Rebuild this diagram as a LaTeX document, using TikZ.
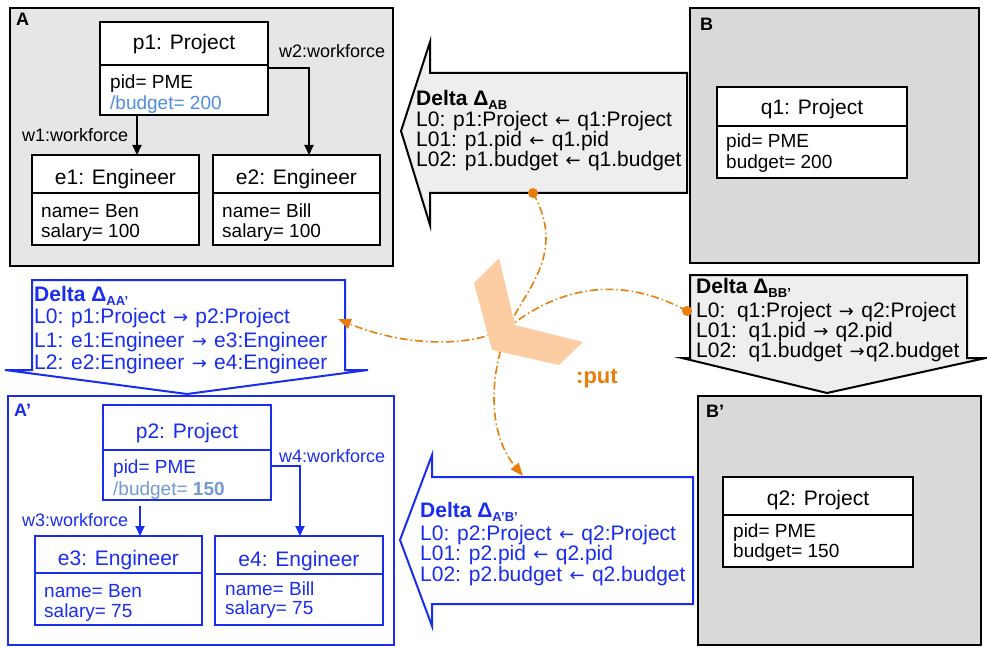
\documentclass[tikz,border=0pt]{standalone}
\usepackage{fontspec}
\setmainfont{Liberation Sans}
\newfontfamily\arrf{DejaVu Sans}
\usetikzlibrary{arrows.meta}
\definecolor{bgA}{HTML}{E6E6E6}
\definecolor{bgB}{HTML}{D9D9D9}
\definecolor{dgray}{HTML}{EEEEEE}
\definecolor{ublue}{RGB}{25,45,240}
\definecolor{lblue}{RGB}{80,140,225}
\definecolor{gblue}{RGB}{115,155,210}
\definecolor{orng}{RGB}{232,125,10}
\definecolor{peach}{RGB}{252,204,162}
\newcommand\dsub[1]{\raisebox{-4pt}{\fontsize{13}{13}\selectfont #1}}
\newcommand\la{\hspace{1.5pt}{\arrf\fontsize{18}{18}\selectfont ←}\hspace{1.5pt}}
\newcommand\ra{\hspace{1.5pt}{\arrf\fontsize{18}{18}\selectfont →}\hspace{1.5pt}}
\begin{document}
\begin{tikzpicture}[x=1pt,y=-1pt,
 box/.style={draw, line width=2pt, inner sep=0pt, outer sep=0pt},
 ttl/.style={anchor=base, inner sep=0pt, font=\fontsize{21}{21}\selectfont},
 att/.style={anchor=base west, inner sep=0pt, font=\fontsize{19}{19}\selectfont},
 lab/.style={anchor=base west, inner sep=0pt, font=\fontsize{18}{18}\selectfont},
 dtx/.style={anchor=base west, inner sep=0pt, font=\fontsize{21}{21}\selectfont},
 big/.style={anchor=base west, inner sep=0pt, font=\fontsize{18}{18}\selectfont\bfseries},
 conn/.style={line width=2pt, -{Triangle[length=10pt,width=9pt]}},
 putline/.style={orng, line width=1.6pt, dash pattern=on 8pt off 3pt on 1.5pt off 3pt},
 dlt/.style={line width=2pt, line join=miter},
]
\useasboundingbox (0,0) rectangle (987,647);

% ---------- A ----------
\node[box, fill=bgA, minimum width=383pt, minimum height=258pt] (A) at (201.5,137) {};
\node[big] (Alab) at (16,26) {A};
\node[box, fill=white, minimum width=168pt, minimum height=43pt] (p1t) at (184,43.5) {};
\node[ttl] (p1n) at (184,50) {p1: Project};
\node[box, fill=white, minimum width=168pt, minimum height=50pt] (p1a) at (184,90) {};
\node[att] (p1pid) at (110,89) {pid= PME};
\node[att, text=lblue] (p1bud) at (110,110) {/budget= 200};
\node[box, fill=white, minimum width=167pt, minimum height=38pt] (e1t) at (115.5,174) {};
\node[ttl] (e1nm) at (115.5,185) {e1: Engineer};
\node[box, fill=white, minimum width=167pt, minimum height=52pt] (e1a) at (115.5,219) {};
\node[att] (e1n) at (41,217) {name= Ben};
\node[att] (e1s) at (41,237) {salary= 100};
\node[box, fill=white, minimum width=167pt, minimum height=38pt] (e2t) at (296.5,174) {};
\node[ttl] (e2nm) at (296.5,185) {e2: Engineer};
\node[box, fill=white, minimum width=167pt, minimum height=52pt] (e2a) at (296.5,219) {};
\node[att] (e2n) at (222,217) {name= Bill};
\node[att] (e2s) at (222,237) {salary= 100};
\draw[conn] ([xshift=37pt]p1a.south west) -- ([xshift=105pt]e1t.north west);
\draw[conn] ([yshift=-3pt]p1a.north east) -| ([xshift=96pt]e2t.north west);
\node[lab] (w1) at (22,141.5) {w1:workforce};
\node[lab] (w2) at (279,57.5) {w2:workforce};

% ---------- B ----------
\node[box, fill=bgB, minimum width=289pt, minimum height=255pt] (B) at (834.5,135.5) {};
\node[big] (Blab) at (700,31) {B};
\node[box, fill=white, minimum width=190pt, minimum height=39pt] (q1t) at (812,106.5) {};
\node[ttl] (q1nm) at (812,115) {q1: Project};
\node[box, fill=white, minimum width=190pt, minimum height=52pt] (q1a) at (812,152) {};
\node[att] (q1pid) at (726,148) {pid= PME};
\node[att] (q1bud) at (726,168) {budget= 200};

% ---------- B' ----------
\node[box, fill=bgB, minimum width=283pt, minimum height=249pt] (Bp) at (839.5,520.5) {};
\node[big] (Bplab) at (706,417) {B’};
\node[box, fill=white, minimum width=190pt, minimum height=38pt] (q2t) at (818,496) {};
\node[ttl] (q2nm) at (818,505) {q2: Project};
\node[box, fill=white, minimum width=190pt, minimum height=52pt] (q2a) at (818,541) {};
\node[att] (q2pid) at (733,537) {pid= PME};
\node[att] (q2bud) at (733,557) {budget= 150};

% ---------- A' ----------
\begin{scope}[every node/.append style={text=ublue}]
\node[box, draw=ublue, fill=white, minimum width=386pt, minimum height=249pt] (Ap) at (201,520.5) {};
\node[big] (Aplab) at (14,416) {A’};
\node[box, draw=ublue, fill=white, minimum width=168pt, minimum height=45pt] (p2t) at (187,427.5) {};
\node[ttl] (p2nm) at (187,438) {p2: Project};
\node[box, draw=ublue, fill=white, minimum width=168pt, minimum height=50pt] (p2a) at (187,475) {};
\node[att] (p2pid) at (113,473) {pid= PME};
\node[att, text=gblue] (p2bud) at (113,495) {/budget= \textbf{150}};
\node[box, draw=ublue, fill=white, minimum width=167pt, minimum height=37pt] (e3t) at (118.5,554.5) {};
\node[ttl] (e3nm) at (118.5,565) {e3: Engineer};
\node[box, draw=ublue, fill=white, minimum width=167pt, minimum height=52pt] (e3a) at (118.5,599) {};
\node[att] (e3n) at (44,597) {name= Ben};
\node[att] (e3s) at (44,617) {salary= 75};
\node[box, draw=ublue, fill=white, minimum width=168pt, minimum height=38pt] (e4t) at (299,555) {};
\node[ttl] (e4nm) at (299,566) {e4: Engineer};
\node[box, draw=ublue, fill=white, minimum width=168pt, minimum height=51pt] (e4a) at (299,599.5) {};
\node[att] (e4n) at (225,595) {name= Bill};
\node[att] (e4s) at (225,614) {salary= 75};
\node[lab] (w3) at (22,526) {w3:workforce};
\node[lab] (w4) at (279,462) {w4:workforce};
\end{scope}
\draw[conn, ublue] ([xshift=37pt,yshift=-6pt]p2a.south west) -- ([xshift=105pt]e3t.north west);
\draw[conn, ublue] ([yshift=-16pt]p2a.north east) -| ([xshift=85pt]e4t.north west);

% ---------- Delta AB ----------
\draw[dlt, fill=dgray] (687,73) -- (430,73) -- (430,42) -- (401,131) -- (430,225) -- (430,193) -- (687,193) -- cycle;
\node[dtx] (dAB0) at (416,105.5) {\textbf{Delta Δ\dsub{AB}}};
\node[dtx] (dAB1) at (416,127) {L0: p1:Project \la{} q1:Project};
\node[dtx] (dAB2) at (416,147) {L01: p1.pid \la{} q1.pid};
\node[dtx] (dAB3) at (416,167) {L02: p1.budget \la{} q1.budget};

% ---------- Delta BB' ----------
\draw[dlt, fill=dgray] (690,275) -- (967,275) -- (967,358) -- (986,358) -- (827,393) -- (682,358) -- (690,358) -- cycle;
\node[dtx] (dBB0) at (696,293) {\textbf{Delta Δ\dsub{BB'}}};
\node[dtx] (dBB1) at (696,317) {L0:\ \ q1:Project \ra{} q2:Project};
\node[dtx] (dBB2) at (696,337) {L01:\ \ q1.pid \ra{} q2.pid};
\node[dtx] (dBB3) at (696,357) {L02:\ \ q1.budget \ra{}q2.budget};

% ---------- Delta AA' ----------
\draw[dlt, draw=ublue, fill=white] (32,280) -- (345,280) -- (345,370) -- (368,370) -- (187,394) -- (5,370) -- (32,370) -- cycle;
\begin{scope}[every node/.append style={text=ublue}]
\node[dtx] (dAA0) at (34,301) {\textbf{Delta Δ\dsub{AA'}}};
\node[dtx] (dAA1) at (34,323) {L0: p1:Project \ra{} p2:Project};
\node[dtx] (dAA2) at (34,347) {L1: e1:Engineer \ra{} e3:Engineer};
\node[dtx] (dAA3) at (34,369) {L2: e2:Engineer \ra{} e4:Engineer};
\end{scope}

% ---------- Delta A'B' ----------
\draw[dlt, draw=ublue, fill=white] (693,477) -- (432,477) -- (432,455) -- (400,540) -- (432,626) -- (432,604) -- (693,604) -- cycle;
\begin{scope}[every node/.append style={text=ublue}]
\node[dtx] (dApB0) at (420,517) {\textbf{Delta Δ\dsub{A'B'}}};
\node[dtx] (dApB1) at (420,540) {L0: p2:Project \la{} q2:Project};
\node[dtx] (dApB2) at (420,560.5) {L01: p2.pid \la{} q2.pid};
\node[dtx] (dApB3) at (420,581) {L02: p2.budget \la{} q2.budget};
\end{scope}

% ---------- put ----------
\coordinate (s1) at (533,193);
\coordinate (t1) at (523,476);
\coordinate (s2) at (687,311);
\coordinate (t2) at (338,319);
\draw[putline, -{Triangle[length=13pt,width=10pt]}] (s1) .. controls (565,250) and (530,285) .. (512,320) .. controls (490,365) and (485,430) .. (t1);
\draw[putline, -{Triangle[length=13pt,width=10pt]}] (s2) .. controls (630,280) and (570,280) .. (510,326) .. controls (470,350) and (400,345) .. (t2);
\fill[orng] (s1) circle (5pt);
\fill[orng] (s2) circle (5pt);
\fill[peach] (474,283) -- (499,258) -- (515,325) -- (583,342) -- (559,365) -- (492,350) -- cycle;
\node[anchor=base west, inner sep=0pt, text=orng, font=\fontsize{22}{22}\selectfont\bfseries] (put) at (576,383) {:put};
\end{tikzpicture}
\end{document}
